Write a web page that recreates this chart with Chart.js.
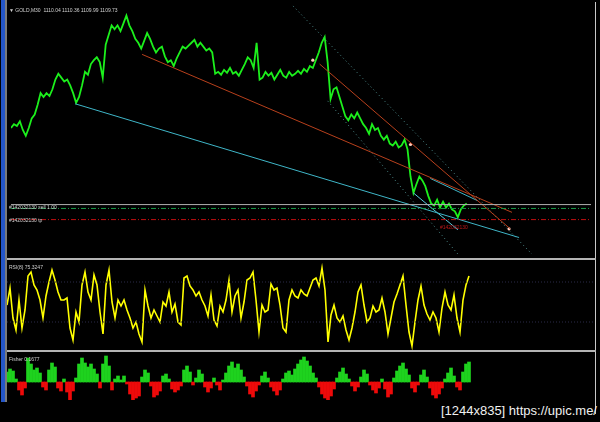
<!DOCTYPE html>
<html lang="en">
<head>
<meta charset="UTF-8" />
<title>GOLD,M30</title>
<style>
  body {
    margin: 0;
    background: #000;
    width: 600px;
    height: 422px;
    overflow: hidden;
    position: relative;
    font-family: "Liberation Sans", sans-serif;
  }
  canvas { position: absolute; }
  .bar { position: absolute; }
  .lbl {
    position: absolute;
    color: #d0d0d0;
    font-size: 5px;
    line-height: 6px;
    white-space: nowrap;
  }
</style>
<script src="https://cdn.jsdelivr.net/npm/chart.js"></script>
</head>
<body>
  <!-- window frame -->
  <div class="bar" style="left:1px;top:0;width:4px;height:402px;background:#2456c8"></div>
  <div class="bar" style="left:5px;top:0;width:2px;height:402px;background:#7a7a7a"></div>
  <div class="bar" style="left:595px;top:2px;width:1px;height:412px;background:#c8c8c8"></div>
  <div class="bar" style="left:7px;top:258px;width:589px;height:2px;background:#b4b4b4"></div>
  <div class="bar" style="left:7px;top:350px;width:589px;height:2px;background:#b4b4b4"></div>

  <canvas id="priceChart" width="588" height="258" style="left:7px;top:0"></canvas>
  <canvas id="rsiChart" width="588" height="88" style="left:7px;top:262px"></canvas>
  <canvas id="fisherChart" width="588" height="47" style="left:7px;top:353px"></canvas>

  <div class="lbl" style="left:9px;top:7px">&#9660; GOLD,M30&nbsp; 1110.04 1110.36 1109.99 1109.73</div>
  <div class="lbl" style="left:9px;top:204px">#142032130 sell 1.00</div>
  <div class="lbl" style="left:9px;top:217px">#142032130 tp</div>
  <div class="lbl" style="left:440px;top:224px;color:#c01818">#142032130</div>
  <div class="lbl" style="left:9px;top:264px">RSI(8) 75.3247</div>
  <div class="lbl" style="left:9px;top:356px">Fisher 0.1677</div>
  <div style="position:absolute;right:3px;top:403px;color:#f0f0f0;font-family:'Liberation Sans Narrow',sans-serif;font-size:13px;white-space:nowrap">[1244x835] https://upic.me/</div>

<script>
  // one value every bar, bars are 3px wide, window shows 196 bars
  const visibleBars = 196;

  const closes = [
    1124.4, 1125.2, 1124.8, 1125.8, 1124.0, 1122.8, 1124.4, 1126.4, 1127.2, 1129.2,
    1131.6, 1130.8, 1131.6, 1131.0, 1132.4, 1134.4, 1135.6, 1134.8, 1134.0, 1134.4,
    1133.2, 1131.6, 1129.6, 1130.8, 1133.2, 1136.0, 1135.4, 1137.6, 1138.4, 1139.0,
    1138.0, 1134.8, 1141.6, 1143.6, 1145.6, 1144.8, 1145.6, 1144.4, 1146.0, 1147.6,
    1145.6, 1144.4, 1142.8, 1142.0, 1140.8, 1142.4, 1144.0, 1142.8, 1141.2, 1140.0,
    1140.8, 1141.2, 1139.2, 1138.0, 1138.4, 1137.2, 1138.8, 1140.0, 1141.2, 1140.8,
    1141.4, 1142.0, 1142.6, 1141.2, 1142.0, 1141.2, 1140.4, 1140.8, 1140.0, 1135.6,
    1136.0, 1135.4, 1136.4, 1135.8, 1136.8, 1135.6, 1136.0, 1135.2, 1136.4, 1137.6,
    1139.0, 1138.4, 1136.8, 1142.0, 1134.4, 1134.8, 1136.0, 1135.2, 1135.8, 1134.4,
    1135.4, 1136.4, 1135.2, 1134.8, 1136.0, 1135.2, 1135.6, 1136.2, 1135.6, 1136.6,
    1136.0, 1137.2, 1136.8, 1138.4, 1140.0, 1142.0, 1143.2, 1138.0, 1130.4, 1132.4,
    1132.8, 1130.8, 1128.8, 1126.8, 1126.0, 1127.2, 1126.4, 1127.6, 1126.4, 1125.2,
    1124.4, 1123.2, 1125.2, 1124.0, 1124.4, 1122.8, 1122.0, 1122.8, 1121.2, 1120.8,
    1121.6, 1120.4, 1120.8, 1122.0, 1120.0, 1114.4, 1111.0, 1112.8, 1114.4, 1113.6,
    1112.4, 1110.4, 1108.8, 1108.4, 1109.6, 1108.0, 1109.2, 1108.0, 1108.8, 1107.6,
    1107.2, 1106.0, 1107.6, 1108.4, 1108.8
  ];

  const rsiValues = [
    47, 64, 34, 22, 52, 24, 42, 76, 80, 67,
    62, 52, 34, 56, 70, 82, 72, 60, 52, 52,
    54, 24, 12, 40, 30, 67, 80, 60, 52, 77,
    67, 40, 18, 67, 82, 50, 34, 52, 46, 52,
    42, 34, 24, 30, 18, 10, 62, 46, 34, 42,
    36, 30, 50, 46, 60, 40, 48, 30, 27, 74,
    76, 66, 62, 56, 60, 52, 46, 36, 57, 32,
    26, 46, 40, 52, 72, 40, 56, 62, 34, 50,
    72, 74, 80, 52, 20, 47, 40, 42, 68, 62,
    64, 47, 24, 20, 52, 62, 56, 54, 62, 58,
    56, 64, 72, 74, 66, 84, 62, 10, 37, 47,
    34, 30, 36, 22, 12, 24, 40, 60, 67, 47,
    30, 34, 46, 40, 42, 54, 40, 18, 34, 50,
    58, 67, 76, 47, 20, 6, 30, 52, 66, 47,
    38, 32, 40, 34, 20, 44, 60, 47, 42, 57,
    34, 20, 52, 67, 76
  ];
  const rsiLevels = [70, 30];

  const fisherValues = [
    1.0, 1.3, 1.1, 0.3, -0.8, -1.3, -0.6, 2.4, 1.8, 1.2,
    1.4, 0.9, -0.5, -0.8, 1.2, 1.9, 1.5, -0.6, -0.9, 0.3,
    -1.0, -1.8, -0.9, 0.4, 1.8, 2.4, 1.9, 1.5, 1.8, 1.3,
    0.8, -0.6, 1.8, 2.6, 1.6, -0.8, 0.3, 0.6, 0.2, 0.6,
    -0.2, -1.2, -1.9, -1.6, -1.4, 0.5, 1.2, 0.9, -0.4, -1.5,
    -1.3, -0.9, 0.6, 0.8, 0.3, -0.7, -1.0, -0.8, -0.4, 1.2,
    1.6, 1.0, -0.3, 0.4, 1.2, 0.8, -0.5, -1.0, -0.6, 0.4,
    -0.3, -0.8, 0.2, 0.9, 1.6, 2.0, 1.4, 1.8, 1.2, 0.5,
    -0.4, -1.2, -1.5, -0.9, -0.3, 0.6, 1.0, 0.4, -0.5, -0.9,
    -1.3, -0.8, 0.3, 0.9, 1.1, 0.7, 1.3, 1.8, 2.2, 2.5,
    2.1, 1.6, 0.9, 0.4, -0.5, -1.2, -1.6, -1.8, -1.4, -0.7,
    0.4, 1.0, 1.4, 0.8, 0.3, -0.4, -0.9, -0.5, 0.5, 1.2,
    0.8, -0.3, -0.8, -1.1, -0.6, 0.3, -0.7, -1.5, -1.2, 0.4,
    1.1, 1.6, 1.9, 1.3, 0.7, -0.6, -1.0, -0.3, 0.7, 1.2,
    0.5, -0.6, -1.3, -1.6, -1.2, -0.6, 0.3, 0.9, 1.4, 0.6,
    -0.5, -0.8, 1.0, 1.8, 2.0
  ];

  // order lines: [price, color, dash]
  const orderLines = [
    [1108.6, "#b0b0b0", []],
    [1107.8, "#1a9a4a", [5, 2, 1, 2]],
    [1105.5, "#c01010", [5, 2, 1, 2]]
  ];

  // trend objects: [bar0, price0, bar1, price1, color, dash]
  const trendLines = [
    [21.7, 1129.4, 171.7, 1101.8, "#3fb6c8", []],
    [44.3, 1139.6, 169.3, 1107.0, "#b8401c", []],
    [104.3, 1137.6, 168.7, 1103.6, "#b8401c", []],
    [95.3, 1149.6, 176.0, 1098.4, "#4f8f8f", [1, 3]],
    [107.0, 1130.0, 151.0, 1098.4, "#4f8f8f", [1, 3]],
    [136.0, 1111.0, 151.0, 1103.4, "#56cde0", []],
    [141.7, 1114.0, 157.7, 1109.4, "#3fb6c8", []]
  ];

  const markBars = [102.0, 135.0, 168.3];
  const markPrices = [1138.4, 1121.0, 1103.6];

  function baseOptions(yMin, yMax) {
    return {
      responsive: false,
      animation: false,
      devicePixelRatio: 1,
      layout: { padding: 0 },
      plugins: { legend: { display: false }, tooltip: { enabled: false } },
      scales: {
        x: { type: "linear", min: 0, max: visibleBars, display: false },
        y: { min: yMin, max: yMax, display: false }
      }
    };
  }

  function segment(x0, y0, x1, y1, color, dash, width) {
    return {
      type: "line",
      data: [{ x: x0, y: y0 }, { x: x1, y: y1 }],
      borderColor: color,
      borderWidth: width || 1,
      borderDash: dash,
      pointRadius: 0,
      fill: false
    };
  }

  // main price window
  const priceSets = [];
  for (const [p, color, dash] of orderLines) {
    priceSets.push(segment(0, p, visibleBars, p, color, dash, 1));
  }
  for (const [a, pa, b, pb, color, dash] of trendLines) {
    priceSets.push(segment(a, pa, b, pb, color, dash, 1));
  }
  priceSets.push({
    type: "line",
    data: closes.map((v, i) => ({ x: i, y: v })),
    borderColor: "#1cf01c",
    borderWidth: 1.8,
    pointRadius: 0,
    tension: 0
  });
  priceSets.push({
    type: "scatter",
    data: markBars.map((b, i) => ({ x: b, y: markPrices[i] })),
    pointRadius: 1.6,
    pointBackgroundColor: "#ffc8b8",
    pointBorderWidth: 0
  });

  new Chart(document.getElementById("priceChart"), {
    type: "line",
    data: { datasets: priceSets },
    options: baseOptions(1098.4, 1150)
  });

  // RSI window
  const rsiSets = rsiLevels.map((lv) => segment(0, lv, visibleBars, lv, "#2a2a48", [1, 2], 1));
  rsiSets.push({
    type: "line",
    data: rsiValues.map((v, i) => ({ x: i, y: v })),
    borderColor: "#ffff00",
    borderWidth: 1.6,
    pointRadius: 0,
    tension: 0
  });
  new Chart(document.getElementById("rsiChart"), {
    type: "line",
    data: { datasets: rsiSets },
    options: baseOptions(2, 90)
  });

  // Fisher histogram
  const fisherOpts = baseOptions(-1.8, 2.9);
  fisherOpts.scales.x.offset = false;
  new Chart(document.getElementById("fisherChart"), {
    type: "bar",
    data: {
      datasets: [{
        data: fisherValues.map((v, i) => ({ x: i, y: v })),
        backgroundColor: fisherValues.map((v) => (v >= 0 ? "#1ed21e" : "#ee0a0a")),
        barPercentage: 1,
        categoryPercentage: 1,
        borderWidth: 0
      }]
    },
    options: fisherOpts
  });
</script>
</body>
</html>
